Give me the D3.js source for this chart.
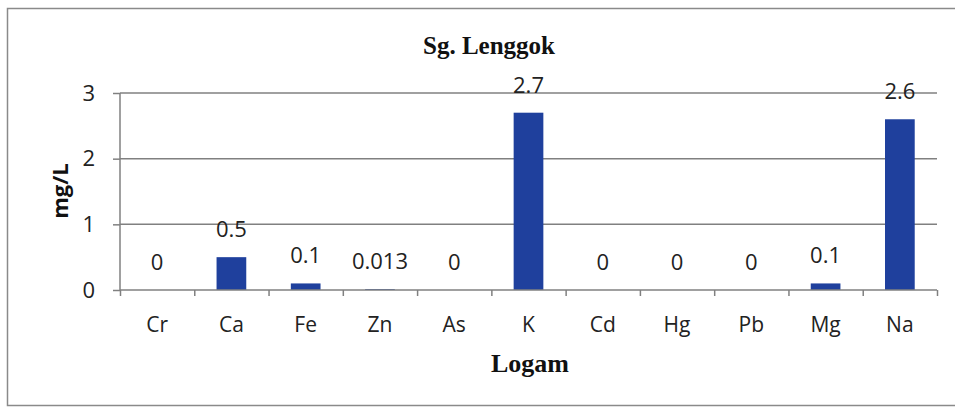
<!DOCTYPE html>
<html>
<head>
<meta charset="utf-8">
<script src="https://cdn.jsdelivr.net/npm/d3@7"></script>
<style>
  body { margin: 0; background: #fff; }
  svg { display: block; }
</style>
</head>
<body>
<div id="chart"></div>
<script>
// values
const metals = ["Cr", "Ca", "Fe", "Zn", "As", "K", "Cd", "Hg", "Pb", "Mg", "Na"];
const conc = [0, 0.5, 0.1, 0.013, 0, 2.7, 0, 0, 0, 0.1, 2.6];
const yTicks = [0, 1, 2, 3];

const W = 955, H = 407;
const margin = {top: 93, right: 18, bottom: 117, left: 120};
const width = W - margin.left - margin.right;
const height = H - margin.top - margin.bottom;

const svg = d3.select("#chart").append("svg")
  .attr("width", W)
  .attr("height", H);

// outer frame
svg.append("rect")
  .attr("x", 7.5).attr("y", 8.5)
  .attr("width", W + 10).attr("height", H - 10)
  .attr("fill", "none")
  .attr("stroke", "#8a8a8a")
  .attr("stroke-width", 1.5);

const g = svg.append("g")
  .attr("transform", `translate(${margin.left},${margin.top})`);

const x = d3.scaleBand().domain(metals).range([0, width]).paddingInner(0.6).paddingOuter(0.3);
const xEdge = d3.scaleLinear().domain([0, metals.length]).range([0, width]);
const y = d3.scaleLinear().domain([0, 3]).range([height, 0]);

// gridlines
g.selectAll(".grid")
  .data(yTicks.filter(d => d > 0))
  .join("line")
  .attr("class", "grid")
  .attr("x1", 0).attr("x2", width)
  .attr("y1", d => y(d)).attr("y2", d => y(d))
  .attr("stroke", "#808080")
  .attr("stroke-width", 1.5);

// bars
g.selectAll(".bar")
  .data(metals)
  .join("rect")
  .attr("class", "bar")
  .attr("x", d => x(d))
  .attr("width", x.bandwidth())
  .attr("y", (d, i) => y(conc[i]))
  .attr("height", (d, i) => height - y(conc[i]))
  .attr("fill", "#1f409d");

// data labels
g.selectAll(".lbl")
  .data(metals)
  .join("text")
  .attr("class", "lbl")
  .attr("x", d => x(d) + x.bandwidth() / 2)
  .attr("y", (d, i) => y(conc[i]) - 20)
  .attr("text-anchor", "middle")
  .style("font-family", "'Open Sans', sans-serif")
  .style("font-size", "22px")
  .attr("fill", "#222")
  .text((d, i) => conc[i]);

// y axis
const yAxis = d3.axisLeft(y).tickValues(yTicks).tickSize(7).tickPadding(18).tickFormat(d3.format("d"));
const yG = g.append("g").call(yAxis);
yG.select(".domain").attr("stroke", "#808080").attr("stroke-width", 1.5).attr("d", `M0,${height}V0`);
yG.selectAll(".tick line").attr("stroke", "#808080").attr("stroke-width", 1.5);
yG.selectAll(".tick text")
  .style("font-family", "'Open Sans', sans-serif")
  .style("font-size", "22px")
  .attr("fill", "#222");

// x axis: baseline with ticks at category edges
const xAxis = d3.axisBottom(xEdge).tickValues(d3.range(metals.length + 1)).tickSize(6).tickFormat("");
const xG = g.append("g").attr("transform", `translate(0,${height})`).call(xAxis);
xG.select(".domain").attr("stroke", "#808080").attr("stroke-width", 1.5).attr("d", `M0,0H${width}`);
xG.selectAll(".tick line").attr("stroke", "#808080").attr("stroke-width", 1.5);

g.selectAll(".cat")
  .data(metals)
  .join("text")
  .attr("class", "cat")
  .attr("x", d => x(d) + x.bandwidth() / 2)
  .attr("y", height + 42)
  .attr("text-anchor", "middle")
  .style("font-family", "'Open Sans', sans-serif")
  .style("font-size", "21px")
  .attr("fill", "#222")
  .text(d => d);

// title
svg.append("text")
  .attr("x", 489).attr("y", 54)
  .attr("text-anchor", "middle")
  .style("font-family", "'Liberation Serif', serif")
  .style("font-weight", "bold")
  .style("font-size", "25px")
  .attr("fill", "#111")
  .text("Sg. Lenggok");

// axis titles
svg.append("text")
  .attr("x", 530).attr("y", 372)
  .attr("text-anchor", "middle")
  .style("font-family", "'Liberation Serif', serif")
  .style("font-weight", "bold")
  .style("font-size", "26px")
  .attr("fill", "#111")
  .text("Logam");

svg.append("text")
  .attr("transform", "translate(68,191) rotate(-90)")
  .attr("text-anchor", "middle")
  .style("font-family", "'Open Sans', sans-serif")
  .style("font-weight", "bold")
  .style("font-size", "22px")
  .attr("fill", "#111")
  .text("mg/L");
</script>
</body>
</html>
